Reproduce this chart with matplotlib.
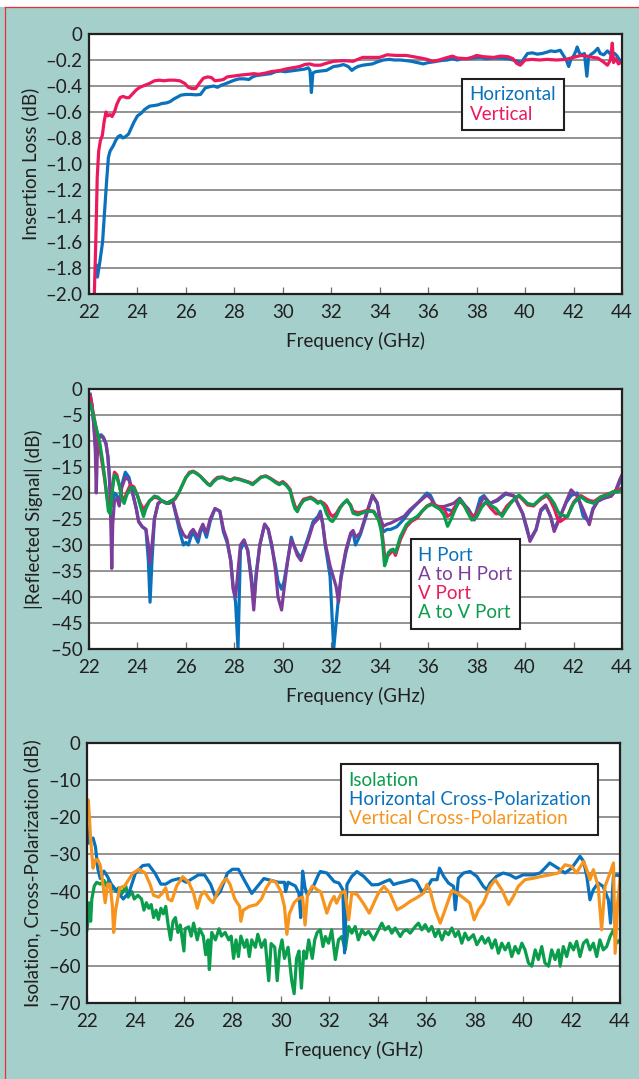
# Three stacked measurement plots: insertion loss, reflected signal, isolation / cross-pol
import matplotlib
matplotlib.use('Agg')
import matplotlib.pyplot as plt
from matplotlib.lines import Line2D
from matplotlib.patches import Rectangle

# ---------------- data (freq GHz, dB) ----------------
freq_ticks = [22, 24, 26, 28, 30, 32, 34, 36, 38, 40, 42, 44]

# Insertion loss
ins_horizontal = [
    (22.30, -1.78), (22.35, -1.87), (22.45, -1.75), (22.56, -1.60), (22.65, -1.35),
    (22.72, -1.15), (22.80, -0.95), (22.87, -0.90), (23.00, -0.86), (23.10, -0.82),
    (23.20, -0.79), (23.30, -0.78), (23.40, -0.80), (23.50, -0.79), (23.63, -0.77),
    (23.75, -0.72), (23.85, -0.68), (24.00, -0.63), (24.15, -0.61), (24.30, -0.58),
    (24.50, -0.555), (24.70, -0.55), (24.85, -0.545), (25.00, -0.535), (25.20, -0.53),
    (25.35, -0.52), (25.50, -0.50), (25.65, -0.485), (25.80, -0.47), (26.00, -0.465),
    (26.20, -0.465), (26.40, -0.468), (26.60, -0.465), (26.70, -0.44), (26.80, -0.415),
    (27.00, -0.405), (27.15, -0.40), (27.30, -0.41), (27.45, -0.395), (27.60, -0.385),
    (27.80, -0.37), (28.00, -0.355), (28.20, -0.345), (28.40, -0.345), (28.60, -0.35),
    (28.75, -0.33), (28.90, -0.32), (29.10, -0.315), (29.30, -0.31), (29.50, -0.305),
    (29.70, -0.29), (29.90, -0.285), (30.10, -0.29), (30.30, -0.285), (30.50, -0.28),
    (30.70, -0.275), (30.90, -0.27), (31.05, -0.26), (31.12, -0.28), (31.18, -0.45),
    (31.24, -0.30), (31.35, -0.29), (31.55, -0.285), (31.80, -0.28), (32.10, -0.25),
    (32.30, -0.245), (32.50, -0.235), (32.70, -0.25), (32.85, -0.28), (32.95, -0.265),
    (33.10, -0.25), (33.30, -0.24), (33.50, -0.235), (33.70, -0.23), (33.90, -0.215),
    (34.15, -0.20), (34.40, -0.195), (34.60, -0.20), (34.85, -0.20), (35.10, -0.205),
    (35.30, -0.21), (35.55, -0.22), (35.80, -0.23), (36.00, -0.22), (36.20, -0.215),
    (36.50, -0.205), (36.80, -0.20), (37.00, -0.19), (37.20, -0.20), (37.40, -0.19),
    (37.60, -0.19), (37.90, -0.185), (38.15, -0.18), (38.40, -0.19), (38.70, -0.185),
    (39.00, -0.185), (39.30, -0.19), (39.50, -0.20), (39.70, -0.21), (39.85, -0.22),
    (39.95, -0.19), (40.10, -0.15), (40.30, -0.145), (40.50, -0.155), (40.70, -0.15),
    (40.90, -0.14), (41.05, -0.13), (41.25, -0.135), (41.45, -0.125), (41.60, -0.17),
    (41.70, -0.20), (41.80, -0.25), (41.90, -0.19), (42.00, -0.17), (42.10, -0.13),
    (42.15, -0.10), (42.25, -0.15), (42.35, -0.16), (42.45, -0.15), (42.55, -0.325),
    (42.62, -0.18), (42.70, -0.16), (42.85, -0.14), (43.00, -0.11), (43.10, -0.15),
    (43.25, -0.16), (43.40, -0.13), (43.55, -0.16), (43.70, -0.15), (43.80, -0.17),
    (43.90, -0.20), (44.00, -0.22),
]
ins_vertical = [
    (22.22, -2.00), (22.28, -1.60), (22.34, -1.10), (22.40, -0.90), (22.47, -0.82),
    (22.55, -0.78), (22.62, -0.68), (22.70, -0.60), (22.78, -0.63), (22.88, -0.62),
    (22.95, -0.635), (23.05, -0.60), (23.15, -0.54), (23.28, -0.49), (23.40, -0.48),
    (23.55, -0.49), (23.65, -0.49), (23.80, -0.46), (23.95, -0.43), (24.10, -0.41),
    (24.30, -0.395), (24.50, -0.38), (24.70, -0.36), (24.90, -0.355), (25.10, -0.36),
    (25.30, -0.355), (25.50, -0.355), (25.75, -0.36), (25.95, -0.38), (26.10, -0.41),
    (26.25, -0.42), (26.40, -0.42), (26.55, -0.38), (26.72, -0.34), (26.90, -0.33),
    (27.05, -0.335), (27.20, -0.36), (27.40, -0.355), (27.55, -0.35), (27.70, -0.33),
    (27.90, -0.325), (28.10, -0.32), (28.30, -0.315), (28.60, -0.31), (28.80, -0.305),
    (29.00, -0.31), (29.30, -0.30), (29.50, -0.29), (29.70, -0.285), (29.90, -0.28),
    (30.10, -0.27), (30.40, -0.26), (30.70, -0.25), (30.90, -0.235), (31.10, -0.23),
    (31.30, -0.24), (31.55, -0.24), (31.80, -0.225), (32.10, -0.21), (32.50, -0.205),
    (32.90, -0.21), (33.10, -0.195), (33.30, -0.18), (33.70, -0.18), (34.00, -0.18),
    (34.30, -0.16), (34.70, -0.165), (35.10, -0.165), (35.40, -0.175), (35.70, -0.185),
    (35.95, -0.195), (36.20, -0.21), (36.45, -0.20), (36.80, -0.18), (37.00, -0.17),
    (37.20, -0.185), (37.60, -0.19), (37.80, -0.18), (38.00, -0.165), (38.30, -0.175),
    (38.70, -0.18), (39.00, -0.17), (39.30, -0.175), (39.50, -0.19), (39.65, -0.225),
    (39.80, -0.24), (40.00, -0.20), (40.30, -0.195), (40.60, -0.20), (40.90, -0.195),
    (41.30, -0.20), (41.70, -0.195), (42.00, -0.18), (42.30, -0.165), (42.55, -0.17),
    (42.80, -0.18), (43.00, -0.185), (43.20, -0.21), (43.40, -0.24), (43.52, -0.20),
    (43.60, -0.07), (43.65, -0.22), (43.75, -0.19), (43.85, -0.23), (44.00, -0.215),
]

# Reflected signal, A to H port (H port shares the same frequency points)
refl_freq_h = [
    22.05, 22.12, 22.20, 22.26, 22.30, 22.34, 22.40, 22.50, 22.60, 22.70,
    22.78, 22.85, 22.90, 22.94, 22.98, 23.05, 23.15, 23.25, 23.35, 23.50,
    23.65, 23.80, 23.95, 24.05, 24.20, 24.35, 24.45, 24.52, 24.60, 24.70,
    24.85, 25.00, 25.15, 25.30, 25.45, 25.60, 25.75, 25.90, 26.00, 26.10,
    26.20, 26.30, 26.40, 26.50, 26.60, 26.70, 26.85, 27.00, 27.20, 27.40,
    27.55, 27.70, 27.85, 27.95, 28.05, 28.15, 28.25, 28.40, 28.55, 28.70,
    28.80, 28.90, 29.05, 29.25, 29.40, 29.55, 29.70, 29.80, 29.95, 30.05,
    30.20, 30.35, 30.45, 30.60, 30.75, 30.90, 31.05, 31.25, 31.45, 31.55,
    31.65, 31.75, 31.95, 32.10, 32.20, 32.30, 32.40, 32.60, 32.80, 32.90,
    33.00, 33.20, 33.50, 33.70, 33.90, 34.00, 34.15, 34.30, 34.45, 34.70,
    35.00, 35.25, 35.55, 35.95, 36.10, 36.30, 36.65, 37.05, 37.30, 37.65,
    37.90, 38.15, 38.30, 38.55, 38.85, 39.20, 39.55, 39.90, 40.10, 40.20,
    40.45, 40.65, 40.85, 41.05, 41.20, 41.40, 41.70, 41.90, 42.15, 42.40,
    42.65, 42.80, 43.00, 43.25, 43.55, 43.75, 43.90, 44.00,
]
a_to_h_port = [
    -1.2, -3.0, -7.0, -12.0, -20.0, -13.0, -9.5, -9.0, -9.5, -10.5,
    -13.0, -18.0, -26.0, -34.5, -26.0, -21.5, -21.0, -22.5, -19.0, -17.0,
    -17.5, -20.0, -23.0, -25.5, -26.5, -27.0, -30.0, -33.5, -30.0, -25.0,
    -22.0, -21.5, -21.8, -22.0, -21.5, -24.0, -26.5, -28.0, -28.5, -28.5,
    -27.5, -27.0, -27.8, -28.5, -27.0, -26.0, -27.8, -25.0, -23.0, -23.5,
    -27.0, -29.0, -33.0, -38.5, -40.0, -35.0, -30.0, -29.0, -31.0, -37.0,
    -42.5, -36.0, -30.0, -26.0, -27.0, -30.0, -35.0, -40.0, -42.5, -38.5,
    -33.0, -29.0, -30.0, -32.0, -33.0, -31.0, -29.0, -26.0, -25.0, -23.9,
    -26.0, -29.6, -34.0, -36.4, -38.0, -41.0, -36.0, -31.0, -27.7, -27.2,
    -28.5, -27.7, -23.2, -20.4, -21.9, -24.5, -26.4, -26.0, -25.8, -25.2,
    -24.5, -23.2, -22.0, -20.4, -21.0, -22.6, -22.6, -22.0, -21.0, -23.2,
    -25.2, -22.0, -20.8, -22.0, -21.3, -20.0, -20.6, -23.9, -27.1, -29.3,
    -27.1, -23.2, -22.3, -24.5, -27.4, -25.2, -21.6, -19.4, -20.6, -23.2,
    -26.1, -23.2, -21.6, -21.0, -20.6, -19.4, -17.5, -16.5,
]
h_port = [
    -1.0, -3.0, -7.0, -10.5, -12.0, -11.0, -9.0, -8.8, -9.3, -10.5,
    -13.0, -17.0, -21.0, -22.5, -21.5, -20.0, -20.5, -22.0, -18.5, -16.0,
    -17.0, -20.0, -23.0, -25.5, -26.5, -27.0, -33.0, -41.0, -33.0, -25.0,
    -22.0, -21.5, -21.8, -22.0, -21.5, -24.5, -27.5, -30.0, -29.5, -30.0,
    -28.5, -27.5, -28.5, -29.5, -27.5, -26.5, -28.5, -25.5, -23.0, -23.5,
    -27.5, -29.5, -33.0, -38.0, -41.0, -50.0, -31.0, -29.5, -31.0, -36.0,
    -41.0, -35.5, -30.0, -26.0, -27.0, -30.5, -34.0, -37.0, -38.5, -37.0,
    -33.0, -28.5, -30.0, -31.5, -32.5, -30.5, -28.5, -25.5, -24.5, -23.5,
    -26.0, -30.0, -36.0, -50.0, -45.0, -40.0, -36.5, -31.5, -28.0, -27.5,
    -30.0, -28.0, -23.5, -20.5, -22.0, -25.0, -27.5, -27.0, -27.0, -26.5,
    -25.0, -23.5, -22.0, -20.0, -20.5, -22.5, -23.0, -23.5, -21.5, -23.0,
    -25.0, -21.0, -20.5, -22.0, -21.5, -20.2, -20.6, -24.0, -27.5, -29.0,
    -27.0, -23.5, -22.5, -24.5, -27.0, -25.0, -21.8, -20.5, -20.0, -24.5,
    -25.5, -23.0, -21.5, -21.0, -20.6, -19.5, -18.0, -17.0,
]

# Reflected signal, A to V port (V port shares the same frequency points)
refl_freq_v = [
    22.05, 22.15, 22.25, 22.35, 22.45, 22.55, 22.65, 22.72, 22.80, 22.88,
    22.95, 23.05, 23.15, 23.25, 23.35, 23.45, 23.55, 23.70, 23.85, 24.00,
    24.12, 24.25, 24.35, 24.50, 24.70, 24.85, 25.00, 25.20, 25.40, 25.55,
    25.70, 25.85, 26.00, 26.15, 26.30, 26.45, 26.60, 26.75, 26.90, 27.00,
    27.15, 27.30, 27.50, 27.70, 27.85, 28.00, 28.20, 28.40, 28.60, 28.75,
    28.90, 29.10, 29.30, 29.50, 29.70, 29.85, 30.00, 30.15, 30.30, 30.40,
    30.50, 30.60, 30.70, 30.85, 31.00, 31.15, 31.30, 31.45, 31.55, 31.70,
    31.80, 31.95, 32.05, 32.20, 32.35, 32.50, 32.65, 32.80, 32.90, 33.10,
    33.30, 33.50, 33.75, 33.95, 34.05, 34.12, 34.20, 34.28, 34.35, 34.45,
    34.55, 34.65, 34.75, 34.85, 35.00, 35.10, 35.30, 35.55, 35.75, 35.95,
    36.15, 36.30, 36.50, 36.65, 36.80, 36.95, 37.05, 37.20, 37.30, 37.45,
    37.60, 37.80, 38.00, 38.20, 38.40, 38.60, 38.80, 39.05, 39.25, 39.40,
    39.60, 39.75, 39.95, 40.10, 40.35, 40.50, 40.65, 40.90, 41.05, 41.20,
    41.35, 41.45, 41.75, 41.90, 42.00, 42.15, 42.30, 42.55, 42.70, 42.85,
    43.10, 43.25, 43.40, 43.65, 43.80, 44.00,
]
a_to_v_port = [
    -2.8, -4.5, -6.5, -8.5, -10.5, -13.5, -17.0, -20.0, -23.5, -24.0,
    -20.0, -16.5, -17.0, -18.5, -21.0, -22.0, -20.5, -19.0, -19.0, -20.5,
    -22.5, -24.5, -23.0, -21.5, -20.6, -20.8, -21.5, -22.0, -21.5, -21.0,
    -20.0, -18.5, -17.0, -16.2, -15.9, -16.3, -16.8, -17.6, -18.3, -18.6,
    -17.8, -17.2, -17.0, -17.4, -17.6, -17.2, -17.4, -17.7, -18.0, -18.4,
    -17.8, -17.0, -16.8, -17.3, -18.0, -18.4, -18.0, -18.6, -19.5, -21.5,
    -23.0, -23.6, -22.5, -21.5, -21.2, -21.0, -21.4, -22.0, -21.6, -22.5,
    -23.9, -25.2, -25.5, -24.5, -23.0, -22.0, -21.3, -22.5, -23.9, -24.2,
    -23.8, -23.5, -23.6, -25.2, -27.0, -29.5, -34.0, -33.0, -31.5, -31.0,
    -30.8, -31.5, -30.0, -28.4, -27.0, -26.1, -25.2, -24.5, -23.5, -22.6,
    -22.2, -22.6, -23.2, -24.2, -26.4, -25.0, -23.9, -22.2, -21.3, -22.0,
    -23.5, -25.2, -24.6, -22.8, -21.6, -22.4, -23.0, -24.5, -23.0, -22.0,
    -21.0, -20.4, -21.3, -22.0, -22.3, -21.7, -21.0, -20.2, -21.0, -22.0,
    -23.5, -24.2, -24.5, -23.0, -22.0, -21.3, -20.7, -21.6, -21.8, -22.0,
    -20.8, -20.6, -20.4, -19.7, -19.8, -19.4,
]
v_port = [
    -1.5, -4.0, -6.5, -9.0, -11.5, -14.5, -17.5, -20.0, -22.5, -23.0,
    -19.5, -16.0, -16.5, -18.5, -20.5, -21.5, -20.0, -18.5, -18.8, -20.5,
    -22.0, -23.2, -22.5, -21.5, -20.8, -21.0, -21.5, -22.0, -21.5, -21.2,
    -20.0, -18.5, -17.0, -16.0, -15.8, -16.2, -16.8, -17.5, -18.2, -18.5,
    -17.6, -17.0, -16.9, -17.3, -17.5, -17.1, -17.3, -17.6, -17.9, -18.2,
    -17.7, -16.9, -16.7, -17.2, -17.8, -18.2, -17.8, -18.4, -19.3, -21.0,
    -22.5, -23.2, -22.3, -21.2, -21.0, -20.8, -21.2, -21.8, -21.6, -22.0,
    -22.5, -24.0, -24.5, -24.0, -22.8, -22.0, -21.5, -22.3, -23.5, -23.8,
    -23.6, -23.3, -23.5, -25.0, -26.5, -28.5, -31.9, -32.5, -32.0, -31.5,
    -31.0, -32.0, -30.5, -29.0, -27.5, -26.5, -25.5, -24.8, -23.5, -22.5,
    -22.0, -22.3, -22.8, -23.0, -24.5, -24.0, -23.0, -22.0, -21.5, -22.2,
    -23.2, -24.5, -24.0, -22.5, -21.8, -23.0, -24.0, -24.0, -22.5, -21.8,
    -21.0, -20.6, -21.5, -22.3, -22.5, -21.8, -21.2, -20.5, -21.5, -23.0,
    -25.0, -25.5, -24.5, -22.8, -21.8, -21.0, -20.5, -21.2, -21.5, -21.6,
    -20.8, -20.5, -20.2, -19.8, -19.5, -19.0,
]

# Isolation and cross-polarization
isolation = [
    (22.00, -50.3), (22.05, -47), (22.10, -43), (22.15, -48), (22.20, -42), (22.30, -38.5),
    (22.40, -37.5), (22.55, -38), (22.70, -37), (22.80, -38.5), (22.90, -37), (23.00, -39.5),
    (23.10, -39), (23.20, -40), (23.30, -39), (23.45, -40.5), (23.60, -38.5), (23.70, -41.5),
    (23.85, -40), (23.95, -42), (24.10, -41), (24.25, -42), (24.35, -45), (24.45, -43),
    (24.55, -44.5), (24.65, -43.5), (24.75, -47), (24.85, -45), (24.95, -47.5), (25.05, -44.5),
    (25.15, -46), (25.25, -44), (25.35, -49), (25.45, -53), (25.55, -48), (25.65, -47),
    (25.75, -51), (25.85, -49), (26.00, -56), (26.05, -50), (26.20, -49.5), (26.30, -52),
    (26.40, -48.5), (26.55, -53), (26.65, -50), (26.80, -52), (26.90, -57), (27.00, -53),
    (27.05, -61), (27.15, -51), (27.30, -53), (27.45, -50), (27.55, -52), (27.70, -51),
    (27.85, -53), (27.95, -52), (28.05, -58), (28.15, -53), (28.25, -57.5), (28.35, -52),
    (28.50, -55), (28.60, -53), (28.70, -57.5), (28.80, -53), (28.95, -55), (29.05, -51.5),
    (29.20, -55), (29.35, -53), (29.50, -64), (29.60, -54), (29.75, -55), (29.85, -64),
    (29.95, -56), (30.05, -53), (30.15, -58), (30.30, -55), (30.45, -64), (30.55, -67.5),
    (30.65, -58), (30.75, -56), (30.85, -66), (30.95, -56), (31.05, -58), (31.15, -53),
    (31.30, -58), (31.40, -53), (31.50, -51), (31.63, -50.3), (31.74, -54.8), (31.84, -52.1),
    (31.97, -53.9), (32.10, -50.3), (32.25, -58.3), (32.38, -53), (32.52, -52.1), (32.66, -55.7),
    (32.80, -49.4), (32.93, -51.2), (33.07, -49.4), (33.20, -53), (33.35, -50.3), (33.48, -51.6),
    (33.62, -50.7), (33.83, -53), (34.03, -50.3), (34.17, -48.5), (34.30, -50.3), (34.45, -49.4),
    (34.58, -51.2), (34.72, -49.8), (34.93, -52.1), (35.06, -50.7), (35.20, -50.3), (35.34, -51.2),
    (35.55, -49.4), (35.68, -48.5), (35.82, -50.3), (35.96, -48.9), (36.10, -50.7), (36.23, -49.4),
    (36.37, -52.1), (36.51, -50.3), (36.65, -53), (36.78, -50.7), (36.92, -51.6), (37.06, -49.8),
    (37.20, -52.1), (37.33, -50.7), (37.47, -53.9), (37.60, -51.2), (37.74, -53), (37.95, -51.6),
    (38.09, -54.3), (38.30, -52.1), (38.43, -53.9), (38.57, -52.5), (38.71, -55.2), (38.85, -53),
    (38.98, -56.6), (39.12, -53.9), (39.26, -55.7), (39.40, -53.9), (39.53, -57.5), (39.67, -54.8),
    (39.81, -56.6), (39.95, -53.9), (40.08, -55.7), (40.22, -59.2), (40.36, -60.1), (40.50, -55.7),
    (40.63, -58.3), (40.77, -54.8), (40.90, -59.2), (41.05, -60.1), (41.18, -55.7), (41.32, -58.3),
    (41.46, -55.7), (41.53, -60.1), (41.66, -54.8), (41.80, -57.5), (41.94, -53.9), (42.08, -55.7),
    (42.21, -53.4), (42.35, -57.5), (42.49, -53.9), (42.63, -53), (42.76, -55.7), (42.90, -53.9),
    (43.04, -57.5), (43.17, -53), (43.31, -55.7), (43.45, -54.8), (43.59, -52.1), (43.73, -50.3),
    (43.86, -53.9), (44.00, -53),
]
horizontal_xpol = [
    (22.00, -22.4), (22.05, -27), (22.15, -26), (22.25, -25.6), (22.35, -28), (22.45, -34),
    (22.55, -36.5), (22.70, -34.5), (22.85, -36), (23.00, -38), (23.25, -40), (23.50, -42),
    (23.75, -40), (24.00, -35), (24.30, -33), (24.55, -32.8), (24.80, -35), (25.05, -38),
    (25.25, -38), (25.50, -37), (25.80, -36.5), (26.10, -37.5), (26.35, -36.5), (26.60, -35.5),
    (26.85, -35.5), (27.10, -38), (27.30, -41.5), (27.50, -40), (27.80, -35), (28.00, -34),
    (28.25, -34), (28.50, -37), (28.80, -40.5), (29.05, -38.5), (29.30, -36.5), (29.60, -37),
    (29.90, -37.5), (30.15, -37.5), (30.20, -40), (30.30, -37.5), (30.60, -38.5), (30.75, -40.5),
    (30.82, -47), (30.90, -34.5), (31.00, -39), (31.10, -41), (31.35, -38.5), (31.55, -35.5),
    (31.63, -34.6), (31.90, -35), (32.20, -37.3), (32.40, -37.7), (32.56, -39.5), (32.63, -56.5),
    (32.73, -38.1), (32.93, -35.9), (33.14, -34.6), (33.42, -35.9), (33.76, -38.2), (34.03, -38.1),
    (34.30, -37.3), (34.50, -36.8), (34.65, -38.1), (34.86, -37.7), (35.13, -37.3), (35.41, -36.8),
    (35.60, -37.3), (35.82, -40), (36.03, -39.1), (36.23, -36.8), (36.45, -36.8), (36.55, -33.7),
    (36.72, -35.9), (36.92, -37.7), (37.13, -38.6), (37.20, -44.9), (37.33, -36.4), (37.54, -35),
    (37.81, -34.6), (38.09, -35.9), (38.36, -38.6), (38.50, -39.5), (38.64, -37.7), (38.90, -35.9),
    (39.18, -35), (39.45, -35.5), (39.70, -36.4), (40.00, -35.5), (40.43, -35.5), (40.70, -35),
    (40.90, -33.7), (41.10, -32.3), (41.32, -33.2), (41.53, -34.1), (41.73, -35), (42.00, -33.7),
    (42.20, -31.9), (42.35, -30.5), (42.50, -31.9), (42.63, -35.9), (42.76, -42.2), (42.90, -39.5),
    (43.10, -37.7), (43.30, -38.6), (43.52, -42.2), (43.61, -48.5), (43.73, -35.9), (43.87, -35.5),
    (44.00, -35.9),
]
vertical_xpol = [
    (22.00, -19.7), (22.05, -15.3), (22.10, -20), (22.15, -26), (22.25, -33.7), (22.35, -31.4),
    (22.45, -31.5), (22.55, -33), (22.62, -36), (22.75, -43), (22.85, -38), (22.95, -38),
    (23.05, -44), (23.10, -51), (23.18, -45), (23.35, -39), (23.55, -38.5), (23.70, -37),
    (23.90, -35), (24.15, -34), (24.40, -35), (24.60, -38), (24.75, -41), (24.95, -41.5),
    (25.10, -40.5), (25.25, -39), (25.35, -42), (25.50, -42.5), (25.70, -38.5), (25.95, -36),
    (26.20, -37.5), (26.40, -40.5), (26.55, -44.5), (26.70, -41), (26.85, -40), (27.05, -42),
    (27.20, -43), (27.40, -40), (27.60, -37.5), (27.75, -36.5), (27.90, -38), (28.10, -42),
    (28.30, -44), (28.35, -48), (28.45, -45), (28.70, -44), (29.00, -43.5), (29.20, -42),
    (29.40, -39), (29.60, -37), (29.80, -37.5), (30.00, -40), (30.15, -44), (30.25, -51.5),
    (30.35, -46), (30.55, -43), (30.70, -42), (30.90, -41.5), (31.00, -49), (31.10, -41),
    (31.30, -38.5), (31.50, -39.5), (31.65, -40.1), (31.90, -45.8), (32.05, -43), (32.20, -41.3),
    (32.30, -43.1), (32.50, -40.4), (32.65, -39.9), (32.80, -47.6), (32.93, -40.4), (33.15, -40.8),
    (33.40, -43.1), (33.65, -45.8), (33.90, -42.2), (34.03, -40.4), (34.25, -38.6), (34.50, -40.4),
    (34.80, -44.9), (35.05, -44), (35.35, -42.6), (35.60, -41.7), (35.90, -40.4), (36.03, -38.1),
    (36.15, -39.5), (36.37, -44.9), (36.58, -48.5), (36.78, -44.9), (37.06, -39.7), (37.27, -40.4),
    (37.54, -41.7), (37.80, -43.1), (37.98, -47.6), (38.16, -44.9), (38.36, -43.1), (38.64, -38.6),
    (38.85, -36.8), (39.12, -39.5), (39.40, -43.5), (39.60, -41.3), (39.80, -38.6), (40.08, -36.8),
    (40.43, -36.4), (40.77, -35.9), (41.10, -35.5), (41.45, -35), (41.73, -32.8), (42.00, -33.2),
    (42.20, -35), (42.50, -31.9), (42.63, -34.1), (42.76, -36.8), (42.90, -34.1), (43.10, -38.6),
    (43.24, -50.3), (43.38, -38.6), (43.59, -35), (43.73, -32.3), (43.80, -56.6), (43.90, -43.1),
    (44.00, -36.8),
]

# y tick values for each panel
ins_ticks = [0, -0.2, -0.4, -0.6, -0.8, -1.0, -1.2, -1.4, -1.6, -1.8, -2.0]
refl_ticks = [0, -5, -10, -15, -20, -25, -30, -35, -40, -45, -50]
iso_ticks = [0, -10, -20, -30, -40, -50, -60, -70]

# ---------------- styling ----------------
BG = '#a4cfcb'
INK = '#231f20'
GRID = '#8a8a8a'
BLUE = '#0a72bd'
RED = '#ec1a5c'
PURPLE = '#7b3f9b'
GREEN = '#0a9d4c'
ORANGE = '#f7941d'
FONT = 'Lato'
LW = 2.3
FS = 13.5

plt.rcParams['font.family'] = [FONT, 'DejaVu Sans']


def dash_label(v, decimals):
    if v == 0:
        return '0'
    return '\u2013' + f'{abs(v):.{decimals}f}'


def style_axes(ax, yticks, decimals, ylabel, ylim):
    ax.set_xlim(22, 44)
    ax.set_ylim(ylim)
    ax.set_facecolor('white')
    ax.set_xticks(freq_ticks)
    ax.set_xticklabels([str(t) for t in freq_ticks])
    ax.set_yticks(yticks)
    ax.set_yticklabels([dash_label(v, decimals) for v in yticks])
    ax.tick_params(axis='x', direction='in', length=5, width=0.9, color='#6d6d6d',
                   pad=7, labelsize=FS, labelcolor=INK, top=False)
    ax.tick_params(axis='y', length=0, pad=4.5, labelsize=FS, labelcolor=INK)
    ax.grid(axis='y', color=GRID, linewidth=1.3)
    ax.set_axisbelow(True)
    for s in ax.spines.values():
        s.set_color(INK)
        s.set_linewidth(1.6)
    ax.set_xlabel('Frequency (GHz)', fontsize=FS, color=INK, labelpad=8)
    ax.set_ylabel(ylabel, fontsize=FS, color=INK, labelpad=5)


def add_legend(ax, anchor):
    leg = ax.legend(loc='upper left', bbox_to_anchor=anchor, borderaxespad=0,
                    handlelength=0, handletextpad=0, labelcolor='linecolor',
                    fancybox=False, framealpha=1, edgecolor=INK,
                    labelspacing=0.12, borderpad=0.4, fontsize=FS)
    leg.get_frame().set_linewidth(1.5)
    return leg


fig = plt.figure(figsize=(6.39, 10.79), dpi=100, facecolor=BG)

# white strip and red rule along the top and left edge
fig.patches.append(Rectangle((0, 1 - 7 / 1079), 1, 7 / 1079, transform=fig.transFigure,
                             facecolor='white', edgecolor='none'))
fig.add_artist(Line2D([5 / 639, 1], [1 - 7 / 1079, 1 - 7 / 1079], color='#e8303a', lw=0.9))
fig.add_artist(Line2D([5 / 639, 5 / 639], [0, 1 - 7 / 1079], color='#e8303a', lw=0.9))

# ---- panel 1: insertion loss ----
ax1 = fig.add_axes([89 / 639, 1 - 294 / 1079, 533 / 639, 260 / 1079])
f, v = zip(*ins_horizontal)
ax1.plot(f, v, color=BLUE, lw=LW, label='Horizontal')
f, v = zip(*ins_vertical)
ax1.plot(f, v, color=RED, lw=LW, label='Vertical')
style_axes(ax1, ins_ticks, 1, 'Insertion Loss (dB)', (-2.0, 0))
add_legend(ax1, (0.700, 0.827))

# ---- panel 2: reflected signal ----
ax2 = fig.add_axes([89 / 639, 1 - 649 / 1079, 533 / 639, 260 / 1079])
ax2.plot(refl_freq_h, h_port, color=BLUE, lw=LW, label='H Port')
ax2.plot(refl_freq_h, a_to_h_port, color=PURPLE, lw=LW, label='A to H Port')
ax2.plot(refl_freq_v, v_port, color=RED, lw=LW, label='V Port')
ax2.plot(refl_freq_v, a_to_v_port, color=GREEN, lw=LW, label='A to V Port')
style_axes(ax2, refl_ticks, 0, '|Reflected Signal| (dB)', (-50, 0))
add_legend(ax2, (0.604, 0.423))

# ---- panel 3: isolation and cross-polarization ----
ax3 = fig.add_axes([87 / 639, 1 - 1003 / 1079, 533 / 639, 260 / 1079])
f, v = zip(*isolation)
ax3.plot(f, v, color=GREEN, lw=LW, label='Isolation')
f, v = zip(*horizontal_xpol)
ax3.plot(f, v, color=BLUE, lw=LW, label='Horizontal Cross-Polarization')
f, v = zip(*vertical_xpol)
ax3.plot(f, v, color=ORANGE, lw=LW, label='Vertical Cross-Polarization')
style_axes(ax3, iso_ticks, 0, 'Isolation, Cross-Polarization (dB)', (-70, 0))
ax3.axhline(-35, color=GRID, linewidth=1.3, zorder=0.5)
add_legend(ax3, (0.477, 0.919))

fig.savefig('out.png', dpi=100, facecolor=BG)
